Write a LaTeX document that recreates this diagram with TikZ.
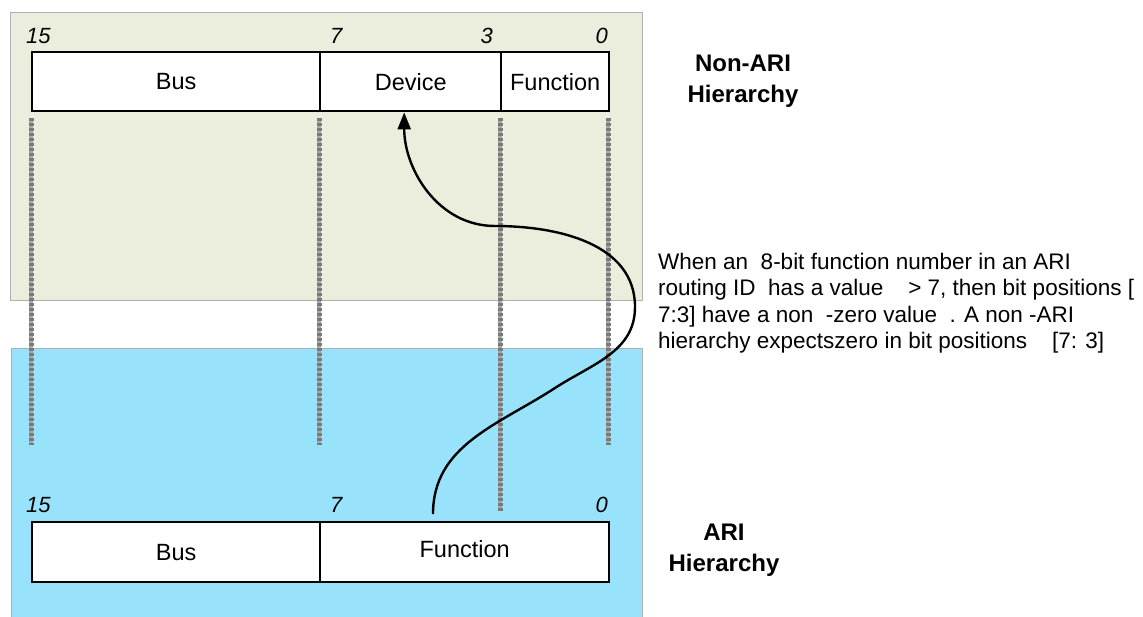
\documentclass[tikz,border=0pt]{standalone}
\usepackage{fontspec}
\setmainfont{Liberation Sans}
\usetikzlibrary{arrows.meta}
\definecolor{panelgreen}{HTML}{EBEEDC}
\definecolor{panelblue}{HTML}{99E2FC}
\definecolor{panelborder}{HTML}{B0B0B0}
\definecolor{guidegray}{HTML}{7A7A7A}
\definecolor{guidelight}{HTML}{A8A8A8}
\begin{document}
\begin{tikzpicture}[x=1pt,y=-1pt,
  panel/.style={draw=panelborder,line width=1pt},
  field/.style={draw=black,line width=2.4pt,fill=white,inner sep=0pt,anchor=north west,font=\fontsize{23.5}{26}\selectfont},
  bitnum/.style={inner sep=0pt,font=\fontsize{22}{26}\selectfont\itshape},
  guidebase/.style={draw=guidelight,line width=4.5pt},
  guideline/.style={draw=guidegray,line width=5pt,dash pattern=on 3pt off 2pt},
  hier/.style={align=center,inner sep=0pt,font=\fontsize{24}{31}\selectfont\bfseries},
  note/.style={align=left,inner sep=0pt,anchor=north west,font=\fontsize{22.5}{26.3}\selectfont},
  route/.style={draw=black,line width=2.4pt,-{Triangle[length=17pt,width=13pt]}}]
\useasboundingbox (0,0) rectangle (1143,616);
% panels
\path[panel,fill=panelgreen] (10,12) rectangle (642,300);
\path[panel,fill=panelblue] (11,348) rectangle (642,620);
% top register (Non-ARI)
\node[field,minimum width=288pt,minimum height=59pt] (tbus) at (31,51) {Bus};
\node[field,minimum width=181pt,minimum height=59pt] (tdev) at (319,51) {Device};
\node[field,minimum width=108pt,minimum height=59pt] (tfun) at (500,51) {Function};
\node[bitnum,anchor=west] (t15) at (26,36) {15};
\node[bitnum,anchor=west] (t7) at (330,36) {7};
\node[bitnum,anchor=east] (t3) at (493,36) {3};
\node[bitnum,anchor=east] (t0) at (608,36) {0};
% bottom register (ARI)
\node[field,minimum width=288pt,minimum height=60pt] (bbus) at (31,521) {Bus};
\node[field,minimum width=289pt,minimum height=60pt] (bfun) at (319,521) {\raisebox{6pt}{Function}};
\node[bitnum,anchor=west] (b15) at (26,505) {15};
\node[bitnum,anchor=west] (b7) at (330,505) {7};
\node[bitnum,anchor=east] (b0) at (608,505) {0};
% guide lines
\coordinate (g1a) at (31,118);  \coordinate (g1b) at (31,445);
\coordinate (g2a) at (319,118); \coordinate (g2b) at (319,445);
\coordinate (g3a) at (500,118); \coordinate (g3b) at (500,511);
\coordinate (g4a) at (608,118); \coordinate (g4b) at (608,445);
\foreach \a/\b in {g1a/g1b,g2a/g2b,g3a/g3b,g4a/g4b}{
  \draw[guidebase] (\a) -- (\b);
  \draw[guideline] (\a) -- (\b);
}
% routing curve
\coordinate (start) at (433,514);
\coordinate (tip) at ([xshift=-6.5pt]tdev.south);
\draw[route] (start) to[out=90,in=213] (555,388) to[out=33,in=-90] (635,307)
  to[out=90,in=0] (495,226) to[out=180,in=-90] (tip);
% labels
\node[hier] (nonari) at (743,81) {Non-ARI\\Hierarchy};
\node[hier] (ari) at (724,550) {ARI\\Hierarchy};
\node[note] (explain) at (658,253) {When an\ \ 8-bit function number in an ARI\\
routing ID\ \ has a value\ \ \ \ > 7, then bit positions [\\
7:3] have a non\ \ -zero value\ \ . A non -ARI\\
hierarchy expectszero in bit positions\ \ \ \ [7: 3]};
\end{tikzpicture}
\end{document}
